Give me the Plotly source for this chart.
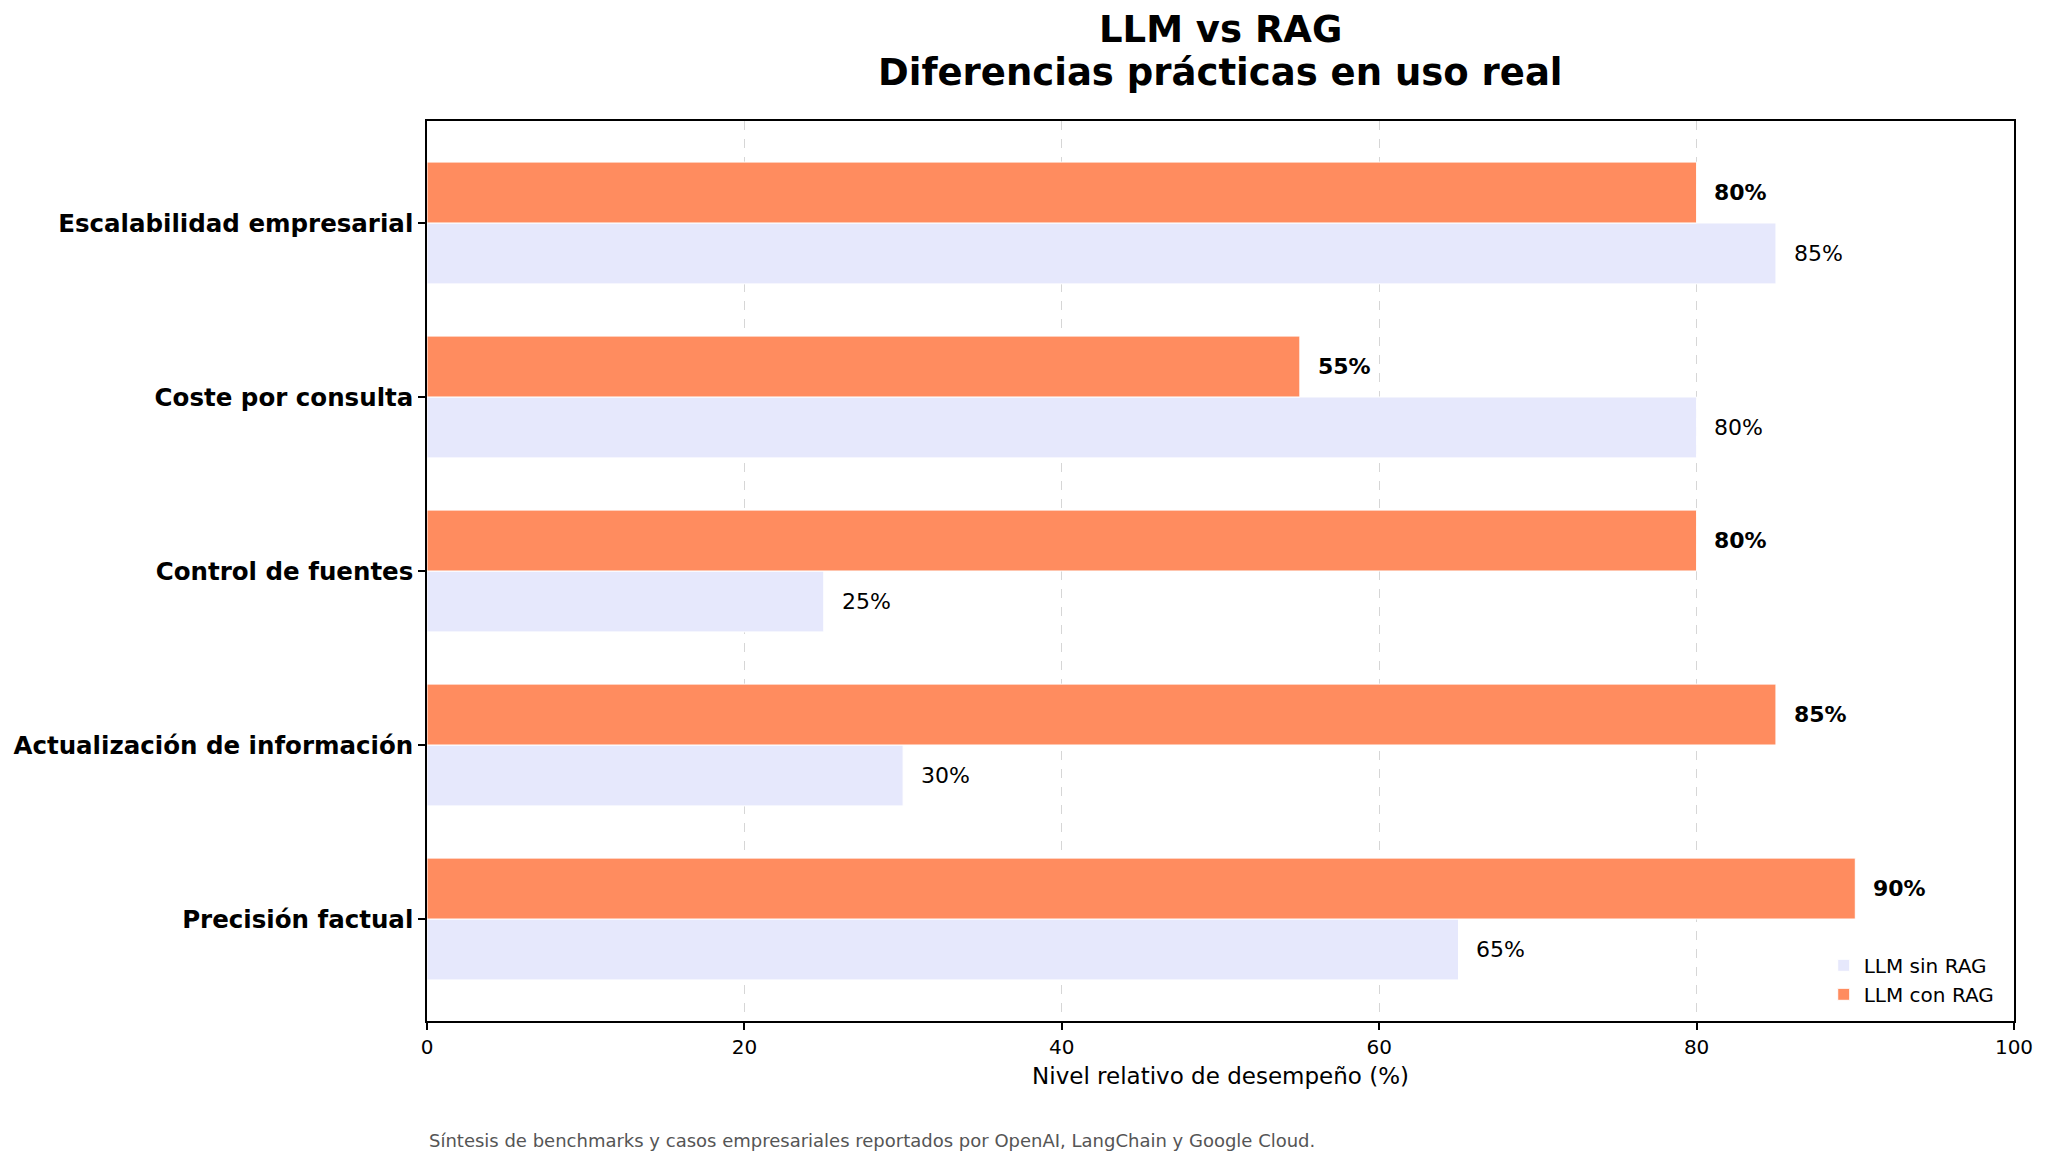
import plotly.graph_objects as go

categories = ["Precisión factual", "Actualización de información", "Control de fuentes",
              "Coste por consulta", "Escalabilidad empresarial"]
sin_rag = [65, 30, 25, 80, 85]
con_rag = [90, 85, 80, 55, 80]
series_names = ["LLM sin RAG", "LLM con RAG"]
x_ticks = [0, 20, 40, 60, 80, 100]
title_lines = ["LLM vs RAG", "Diferencias prácticas en uso real"]

COL_SIN = "#E6E8FC"
COL_CON = "#FF8C5F"
FONT = "DejaVu Sans"
BAR_W = 0.35

idx = list(range(len(categories)))
fig = go.Figure()
fig.add_trace(go.Bar(
    y=[i - BAR_W / 2 for i in idx], x=sin_rag, width=BAR_W, orientation="h",
    name=series_names[0], marker=dict(color=COL_SIN, line=dict(color="white", width=1)),
))
fig.add_trace(go.Bar(
    y=[i + BAR_W / 2 for i in idx], x=con_rag, width=BAR_W, orientation="h",
    name=series_names[1], marker=dict(color=COL_CON, line=dict(color="white", width=1)),
))

annotations = []
for i, v in zip(idx, sin_rag):
    annotations.append(dict(x=v + 1, y=i - BAR_W / 2, xref="x", yref="y", text=f"{v}%",
                            showarrow=False, xanchor="left", yanchor="middle",
                            font=dict(family=FONT, size=22, color="black")))
for i, v in zip(idx, con_rag):
    annotations.append(dict(x=v + 1, y=i + BAR_W / 2, xref="x", yref="y", text=f"<b>{v}%</b>",
                            showarrow=False, xanchor="left", yanchor="middle",
                            font=dict(family=FONT, size=22, color="black")))
for ty, line in zip([1.102, 1.0544], title_lines):
    annotations.append(dict(x=0.5, y=ty, xref="paper", yref="paper", xanchor="center",
                            yanchor="middle", text=f"<b>{line}</b>", showarrow=False,
                            font=dict(family=FONT, size=37, color="black")))
annotations.append(dict(
    x=0, y=-0.133, xref="paper", yref="paper", xanchor="left", yanchor="middle",
    text="Síntesis de benchmarks y casos empresariales reportados por OpenAI, LangChain y Google Cloud.",
    showarrow=False, font=dict(family=FONT, size=18, color="#555555")))

# page body has an 8px default margin; compensate so the plot lands at the reference position
fig.update_layout(
    width=2040, height=1158,
    margin=dict(l=419, r=34, t=113, b=145, autoexpand=False),
    paper_bgcolor="white", plot_bgcolor="white",
    font=dict(family=FONT, color="black"),
    barmode="overlay",
    showlegend=True,
    legend=dict(x=0.991, y=0.008, xanchor="right", yanchor="bottom",
                bgcolor="rgba(0,0,0,0)", font=dict(family=FONT, size=20)),
    annotations=annotations,
)
fig.update_xaxes(
    range=[0, 100], tickvals=x_ticks, ticktext=[str(t) for t in x_ticks],
    showgrid=True, gridcolor="#d6d6d6", griddash="dash", gridwidth=1.2,
    showline=True, linecolor="black", linewidth=1.6, mirror=True,
    ticks="outside", ticklen=7, tickwidth=1.6, tickcolor="black",
    tickfont=dict(family=FONT, size=20), zeroline=False, automargin=False,
    title=dict(text="Nivel relativo de desempeño (%)", font=dict(family=FONT, size=23), standoff=10),
)
fig.update_yaxes(
    range=[-0.586, 4.586], tickvals=idx, ticktext=[f"<b>{c}</b>" for c in categories],
    showgrid=False, showline=True, linecolor="black", linewidth=1.6, mirror=True,
    ticks="outside", ticklen=7, tickwidth=1.6, tickcolor="black",
    tickfont=dict(family=FONT, size=24.5), zeroline=False, automargin=False,
)

fig.write_html("out.html")
